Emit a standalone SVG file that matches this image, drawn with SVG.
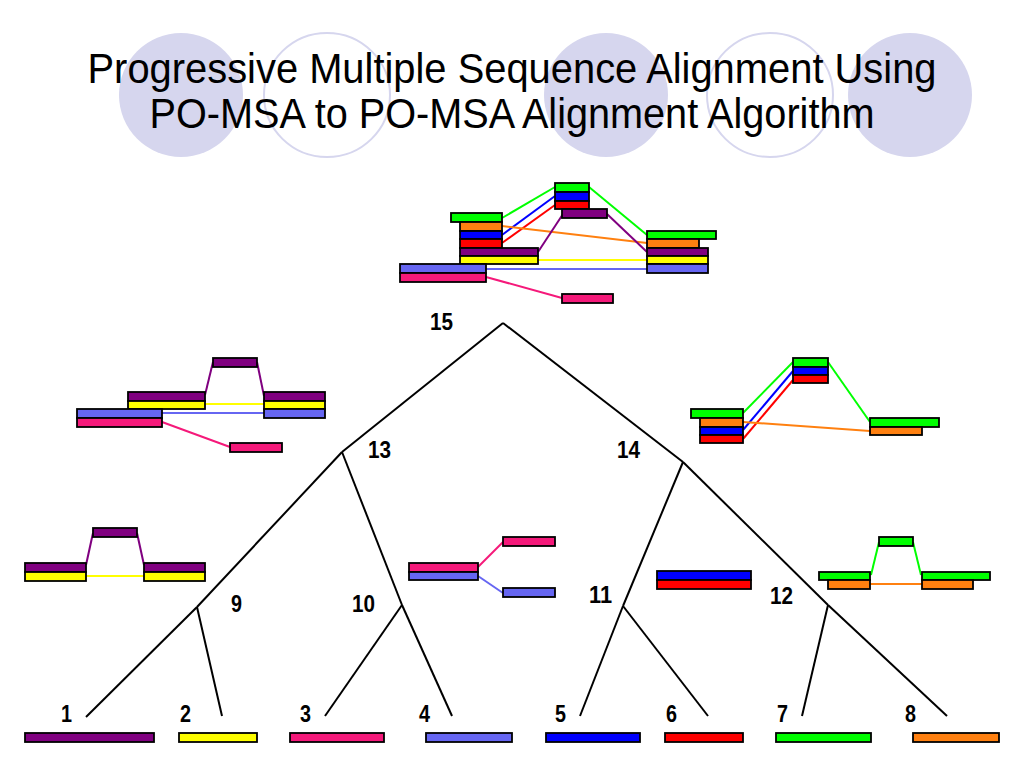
<svg xmlns="http://www.w3.org/2000/svg" width="1024" height="768" viewBox="0 0 1024 768">
<style>
.bg{fill:#d6d6ee}
.ring{fill:none;stroke:#d6d6ee;stroke-width:2}
.title{font-family:"Liberation Sans",Arial,sans-serif;font-size:42px;fill:#000}
.lbl{font-family:"Liberation Sans",Arial,sans-serif;font-size:24px;font-weight:bold;fill:#000}
.edge{stroke:#000;stroke-width:2;fill:none}
g.n rect{stroke:#000;stroke-width:1.8}
.pu{fill:#800080}.ye{fill:#ffff00}.pk{fill:#f5197a}.lb{fill:#6666f2}
.bl{fill:#0000ff}.rd{fill:#ff0000}.gr{fill:#00ff00}.or{fill:#ff8010}
line.a{stroke-width:2}
.spu{stroke:#800080}.sye{stroke:#ffff00}.spk{stroke:#f5197a}.slb{stroke:#6666f2}
.sbl{stroke:#0000ff}.srd{stroke:#ff0000}.sgr{stroke:#00ff00}.sor{stroke:#ff8010}
</style>
<rect width="1024" height="768" fill="#fff"/>
<g id="background">
<ellipse class="bg" cx="181" cy="95" rx="62" ry="62"/>
<ellipse class="ring" cx="327" cy="95" rx="63" ry="62"/>
<ellipse class="bg" cx="606" cy="95" rx="62" ry="62"/>
<ellipse class="ring" cx="770" cy="95" rx="63" ry="62"/>
<ellipse class="bg" cx="910" cy="95" rx="62" ry="62"/>
</g>
<g id="title">
<text class="title" x="512" y="83" text-anchor="middle" textLength="849" lengthAdjust="spacingAndGlyphs">Progressive Multiple Sequence Alignment Using</text>
<text class="title" x="512" y="128" text-anchor="middle" textLength="725" lengthAdjust="spacingAndGlyphs">PO-MSA to PO-MSA Alignment Algorithm</text>
</g>
<g id="connectors">
<line class="edge" x1="503" y1="323" x2="342" y2="452"/>
<line class="edge" x1="503" y1="323" x2="683" y2="462"/>
<line class="edge" x1="342" y1="452" x2="197" y2="607"/>
<line class="edge" x1="197" y1="607" x2="86" y2="717"/>
<line class="edge" x1="197" y1="607" x2="222" y2="716"/>
<line class="edge" x1="342" y1="452" x2="402" y2="605"/>
<line class="edge" x1="402" y1="605" x2="452" y2="716"/>
<line class="edge" x1="402" y1="605" x2="325" y2="716"/>
<line class="edge" x1="683" y1="462" x2="623" y2="606"/>
<line class="edge" x1="623" y1="606" x2="580" y2="716"/>
<line class="edge" x1="623" y1="606" x2="708" y2="716"/>
<line class="edge" x1="683" y1="462" x2="828" y2="605"/>
<line class="edge" x1="828" y1="605" x2="947" y2="716"/>
<line class="edge" x1="828" y1="605" x2="802" y2="716"/>
</g>
<g id="labels">
<text class="lbl" x="430" y="330" textLength="23" lengthAdjust="spacingAndGlyphs">15</text>
<text class="lbl" x="368" y="458" textLength="23" lengthAdjust="spacingAndGlyphs">13</text>
<text class="lbl" x="617" y="458" textLength="23" lengthAdjust="spacingAndGlyphs">14</text>
<text class="lbl" x="231" y="612" textLength="11" lengthAdjust="spacingAndGlyphs">9</text>
<text class="lbl" x="352" y="612" textLength="23" lengthAdjust="spacingAndGlyphs">10</text>
<text class="lbl" x="589" y="603" textLength="23" lengthAdjust="spacingAndGlyphs">11</text>
<text class="lbl" x="770" y="604" textLength="23" lengthAdjust="spacingAndGlyphs">12</text>
<text class="lbl" x="61" y="722" textLength="11" lengthAdjust="spacingAndGlyphs">1</text>
<text class="lbl" x="180" y="722" textLength="11" lengthAdjust="spacingAndGlyphs">2</text>
<text class="lbl" x="300" y="722" textLength="11" lengthAdjust="spacingAndGlyphs">3</text>
<text class="lbl" x="419" y="722" textLength="11" lengthAdjust="spacingAndGlyphs">4</text>
<text class="lbl" x="555" y="722" textLength="11" lengthAdjust="spacingAndGlyphs">5</text>
<text class="lbl" x="666" y="722" textLength="11" lengthAdjust="spacingAndGlyphs">6</text>
<text class="lbl" x="777" y="722" textLength="11" lengthAdjust="spacingAndGlyphs">7</text>
<text class="lbl" x="905" y="722" textLength="11" lengthAdjust="spacingAndGlyphs">8</text>
</g>
<g id="leaf1" class="n"><rect class="pu" x="25" y="733" width="129" height="9"/></g>
<g id="leaf2" class="n"><rect class="ye" x="179" y="733" width="78" height="9"/></g>
<g id="leaf3" class="n"><rect class="pk" x="290" y="733" width="94" height="9"/></g>
<g id="leaf4" class="n"><rect class="lb" x="426" y="733" width="86" height="9"/></g>
<g id="leaf5" class="n"><rect class="bl" x="546" y="733" width="94" height="9"/></g>
<g id="leaf6" class="n"><rect class="rd" x="665" y="733" width="78" height="9"/></g>
<g id="leaf7" class="n"><rect class="gr" x="776" y="733" width="95" height="9"/></g>
<g id="leaf8" class="n"><rect class="or" x="913" y="733" width="86" height="9"/></g>
<g id="node9" class="n">
<line class="a spu" x1="86" y1="565" x2="93" y2="533"/>
<line class="a spu" x1="137" y1="533" x2="144" y2="565"/>
<line class="a sye" x1="86" y1="576" x2="144" y2="576"/>
<rect class="pu" x="25" y="563" width="61" height="9"/>
<rect class="ye" x="25" y="572" width="61" height="9"/>
<rect class="pu" x="93" y="528" width="44" height="9"/>
<rect class="pu" x="144" y="563" width="61" height="9"/>
<rect class="ye" x="144" y="572" width="61" height="9"/>
</g>
<g id="node10" class="n">
<line class="a spk" x1="478" y1="567" x2="503" y2="542"/>
<line class="a slb" x1="478" y1="576" x2="503" y2="593"/>
<rect class="pk" x="409" y="563" width="69" height="9"/>
<rect class="lb" x="409" y="572" width="69" height="8"/>
<rect class="pk" x="503" y="537" width="52" height="9"/>
<rect class="lb" x="503" y="588" width="52" height="9"/>
</g>
<g id="node11" class="n">
<rect class="bl" x="657" y="571" width="94" height="9"/>
<rect class="rd" x="657" y="580" width="94" height="9"/>
</g>
<g id="node12" class="n">
<line class="a sgr" x1="871" y1="575" x2="879" y2="542"/>
<line class="a sgr" x1="913" y1="542" x2="921" y2="575"/>
<line class="a sor" x1="870" y1="584" x2="922" y2="584"/>
<rect class="gr" x="819" y="572" width="51" height="8"/>
<rect class="or" x="828" y="580" width="42" height="9"/>
<rect class="gr" x="879" y="537" width="34" height="9"/>
<rect class="gr" x="922" y="572" width="68" height="8"/>
<rect class="or" x="922" y="580" width="51" height="9"/>
</g>
<g id="node13" class="n">
<line class="a spu" x1="205" y1="395" x2="213" y2="362"/>
<line class="a spu" x1="257" y1="362" x2="264" y2="396"/>
<line class="a sye" x1="205" y1="404" x2="264" y2="404"/>
<line class="a slb" x1="162" y1="413" x2="264" y2="413"/>
<line class="a spk" x1="162" y1="422" x2="230" y2="447"/>
<rect class="pu" x="213" y="358" width="44" height="9"/>
<rect class="pu" x="128" y="392" width="77" height="9"/>
<rect class="ye" x="128" y="401" width="77" height="8"/>
<rect class="lb" x="77" y="409" width="85" height="9"/>
<rect class="pk" x="77" y="418" width="85" height="9"/>
<rect class="pu" x="264" y="392" width="61" height="9"/>
<rect class="ye" x="264" y="401" width="61" height="8"/>
<rect class="lb" x="264" y="409" width="61" height="9"/>
<rect class="pk" x="230" y="443" width="52" height="9"/>
</g>
<g id="node14" class="n">
<line class="a sgr" x1="743" y1="413" x2="793" y2="362"/>
<line class="a sbl" x1="743" y1="430" x2="793" y2="371"/>
<line class="a srd" x1="743" y1="439" x2="793" y2="380"/>
<line class="a sgr" x1="828" y1="362" x2="870" y2="422"/>
<line class="a sor" x1="743" y1="422" x2="870" y2="431"/>
<rect class="gr" x="793" y="358" width="35" height="9"/>
<rect class="bl" x="793" y="367" width="35" height="8"/>
<rect class="rd" x="793" y="375" width="35" height="8"/>
<rect class="gr" x="691" y="409" width="52" height="9"/>
<rect class="or" x="700" y="418" width="43" height="9"/>
<rect class="bl" x="700" y="427" width="43" height="8"/>
<rect class="rd" x="700" y="435" width="43" height="8"/>
<rect class="gr" x="870" y="418" width="69" height="9"/>
<rect class="or" x="870" y="427" width="52" height="8"/>
</g>
<g id="node15" class="n">
<line class="a sgr" x1="502" y1="218" x2="555" y2="187"/>
<line class="a sbl" x1="502" y1="235" x2="555" y2="196"/>
<line class="a srd" x1="502" y1="243" x2="555" y2="205"/>
<line class="a sor" x1="502" y1="226" x2="647" y2="243"/>
<line class="a spu" x1="538" y1="252" x2="563" y2="214"/>
<line class="a spu" x1="607" y1="214" x2="647" y2="252"/>
<line class="a sgr" x1="589" y1="187" x2="647" y2="235"/>
<line class="a sye" x1="538" y1="260" x2="647" y2="260"/>
<line class="a slb" x1="486" y1="269" x2="647" y2="269"/>
<line class="a spk" x1="486" y1="277" x2="562" y2="298"/>
<rect class="gr" x="555" y="183" width="34" height="9"/>
<rect class="bl" x="555" y="192" width="34" height="9"/>
<rect class="rd" x="555" y="201" width="34" height="8"/>
<rect class="pu" x="562" y="209" width="45" height="9"/>
<rect class="gr" x="451" y="213" width="51" height="9"/>
<rect class="or" x="460" y="222" width="42" height="9"/>
<rect class="bl" x="460" y="231" width="42" height="8"/>
<rect class="rd" x="460" y="239" width="42" height="9"/>
<rect class="pu" x="460" y="248" width="78" height="8"/>
<rect class="ye" x="460" y="256" width="78" height="8"/>
<rect class="lb" x="400" y="264" width="86" height="9"/>
<rect class="pk" x="400" y="273" width="86" height="9"/>
<rect class="gr" x="647" y="231" width="69" height="8"/>
<rect class="or" x="647" y="239" width="52" height="9"/>
<rect class="pu" x="647" y="248" width="61" height="8"/>
<rect class="ye" x="647" y="256" width="61" height="8"/>
<rect class="lb" x="647" y="264" width="61" height="9"/>
<rect class="pk" x="562" y="294" width="51" height="9"/>
</g>
</svg>
